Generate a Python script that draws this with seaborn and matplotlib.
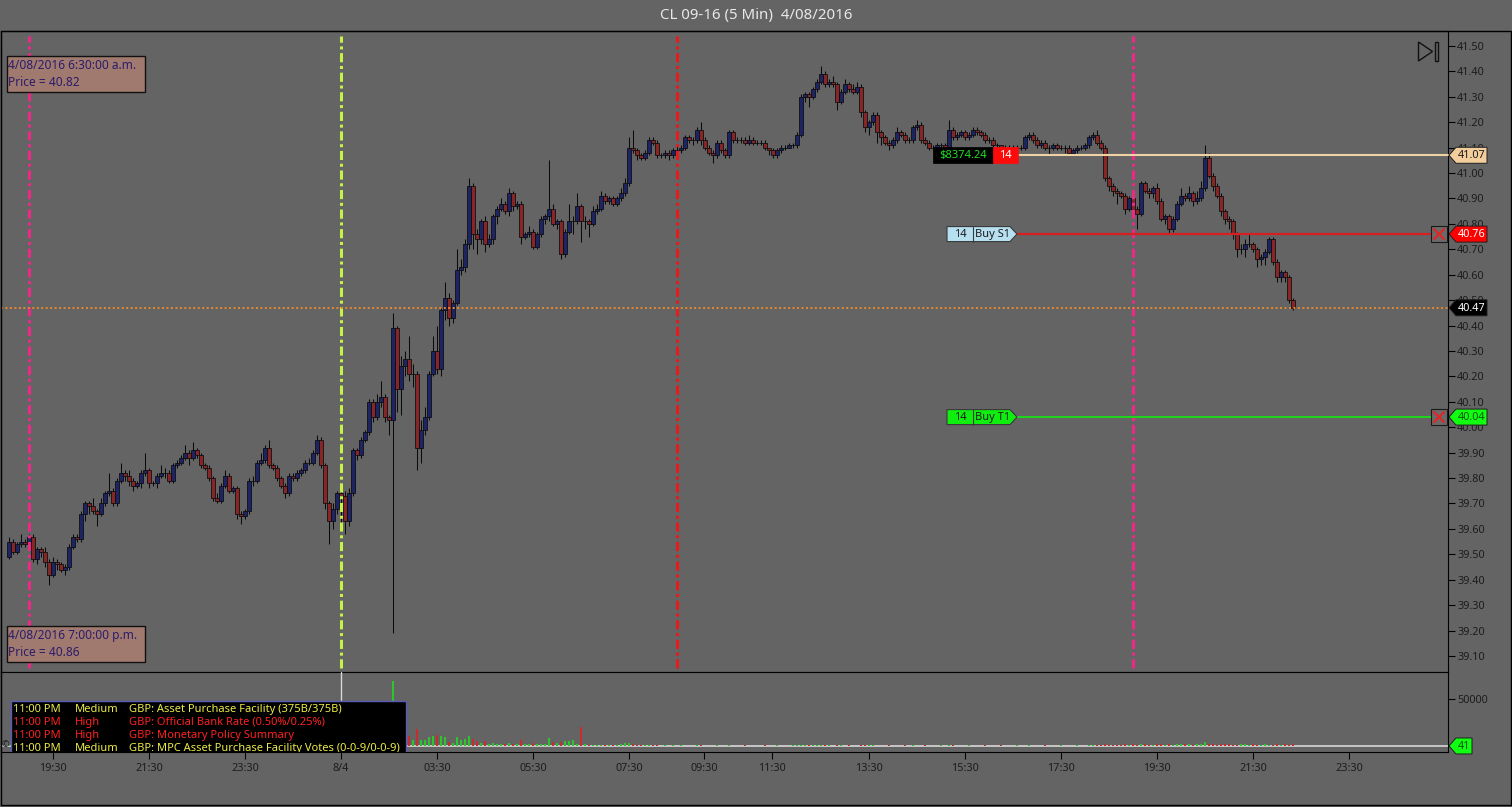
import numpy as np
import pandas as pd
import seaborn as sns
import matplotlib
matplotlib.use("Agg")
import matplotlib.pyplot as plt
from matplotlib.patches import Rectangle, Polygon
from matplotlib.ticker import MultipleLocator, FormatStrFormatter

# 5-min bars, prices in cents above 39.00
opens = [
    49, 55, 51, 54, 55, 54, 57, 48, 52, 51, 47, 42, 47, 46, 44, 45, 53, 57, 56, 66,
    70, 69, 67, 66, 70, 74, 75, 70, 79, 82, 81, 79, 77, 78, 82, 83, 78, 78, 81, 82,
    82, 79, 85, 86, 88, 90, 88, 91, 89, 85, 84, 80, 72, 71, 77, 81, 75, 76, 66, 65,
    67, 79, 79, 86, 87, 92, 85, 84, 80, 77, 74, 81, 80, 82, 83, 86, 86, 90, 95, 85,
    70, 63, 68, 74, 73, 63, 74, 91, 89, 95, 98, 110, 104, 110, 112, 104, 103, 139, 115, 124,
    127, 121, 121, 92, 99, 104, 121, 130, 123, 146, 151, 143, 149, 162, 163, 172, 195, 176, 174, 181,
    172, 174, 183, 186, 188, 185, 192, 187, 188, 175, 176, 177, 171, 176, 182, 183, 186, 180, 181, 168,
    177, 181, 181, 187, 181, 181, 180, 185, 186, 191, 189, 190, 188, 190, 192, 196, 210, 209, 207, 206,
    208, 213, 212, 207, 207, 208, 207, 209, 209, 210, 214, 213, 213, 217, 213, 210, 208, 207, 212, 209,
    207, 216, 213, 213, 213, 212, 213, 212, 212, 212, 210, 209, 207, 209, 210, 210, 211, 211, 215, 230,
    231, 230, 233, 236, 239, 235, 236, 235, 228, 232, 235, 233, 232, 234, 224, 218, 220, 223, 216, 214,
    212, 211, 213, 216, 215, 213, 213, 218, 219, 213, 212, 210, 210, 211, 211, 210, 217, 214, 215, 216,
    214, 215, 217, 216, 215, 213, 213, 211, 211, 210, 210, 210, 210, 210, 210, 214, 215, 213, 211, 212,
    210, 210, 211, 210, 210, 210, 208, 209, 210, 210, 211, 214, 215, 212, 210, 198, 195, 193, 192, 191,
    186, 190, 186, 184, 196, 193, 192, 194, 189, 182, 183, 178, 182, 188, 191, 190, 192, 189, 190, 194,
    206, 199, 195, 191, 185, 182, 181, 176, 170, 170, 172, 172, 170, 166, 167, 169, 174, 165, 159, 161,
    159, 150,
]
highs = [
    57, 56, 55, 58, 56, 58, 58, 53, 53, 53, 48, 49, 48, 47, 46, 54, 58, 58, 67, 71,
    71, 72, 68, 72, 75, 82, 76, 80, 86, 83, 83, 80, 79, 83, 90, 84, 79, 82, 85, 84,
    83, 86, 87, 89, 93, 91, 94, 92, 90, 86, 85, 81, 74, 78, 83, 82, 77, 77, 67, 68,
    80, 81, 87, 90, 93, 95, 86, 85, 81, 78, 82, 82, 83, 84, 87, 88, 91, 97, 96, 86,
    71, 70, 75, 76, 75, 76, 92, 92, 96, 99, 111, 111, 113, 118, 113, 105, 145, 140, 128, 130,
    136, 125, 122, 103, 108, 122, 136, 140, 147, 157, 153, 150, 170, 166, 174, 198, 196, 178, 182, 183,
    176, 184, 187, 190, 189, 194, 193, 189, 189, 177, 179, 178, 177, 183, 184, 205, 188, 182, 182, 178,
    188, 183, 192, 188, 183, 182, 187, 188, 193, 192, 191, 191, 191, 194, 198, 214, 217, 210, 208, 209,
    214, 214, 213, 208, 209, 209, 210, 211, 211, 215, 215, 214, 218, 220, 214, 211, 209, 213, 213, 210,
    217, 217, 214, 214, 214, 215, 214, 213, 213, 213, 210, 210, 210, 211, 211, 212, 212, 216, 231, 232,
    232, 234, 237, 242, 240, 237, 238, 236, 233, 237, 236, 235, 236, 235, 225, 221, 224, 224, 217, 215,
    213, 214, 218, 217, 216, 214, 219, 221, 220, 214, 213, 211, 212, 212, 212, 221, 218, 216, 217, 217,
    216, 218, 218, 217, 216, 214, 214, 212, 211, 211, 211, 211, 211, 211, 215, 216, 216, 214, 213, 213,
    211, 212, 212, 211, 211, 211, 210, 211, 211, 212, 215, 216, 217, 213, 211, 199, 196, 194, 193, 192,
    191, 191, 187, 197, 197, 194, 195, 196, 190, 184, 184, 183, 189, 194, 192, 195, 193, 193, 197, 211,
    208, 200, 196, 192, 186, 183, 182, 177, 172, 174, 176, 173, 171, 168, 170, 175, 175, 166, 162, 162,
    160, 151,
]
lows = [
    48, 50, 50, 53, 53, 53, 47, 46, 49, 45, 38, 41, 44, 43, 42, 44, 52, 55, 55, 63,
    66, 66, 61, 65, 69, 73, 69, 69, 78, 79, 77, 75, 76, 76, 81, 76, 77, 76, 80, 80,
    78, 78, 84, 85, 87, 85, 87, 88, 84, 83, 79, 71, 70, 70, 76, 74, 74, 64, 62, 64,
    66, 77, 78, 85, 86, 84, 83, 79, 76, 72, 73, 79, 79, 81, 82, 85, 85, 89, 84, 68,
    54, 60, 66, 62, 58, 61, 73, 87, 88, 94, 97, 102, 103, 108, 102, 97, 19, 106, 105, 120,
    118, 116, 83, 86, 97, 103, 120, 121, 120, 142, 140, 141, 148, 160, 161, 170, 170, 168, 172, 169,
    171, 172, 180, 185, 184, 183, 185, 186, 172, 174, 175, 170, 170, 175, 180, 181, 179, 178, 166, 167,
    176, 176, 180, 173, 178, 175, 179, 184, 185, 188, 188, 187, 187, 189, 191, 195, 208, 205, 205, 205,
    207, 211, 206, 206, 206, 205, 206, 208, 208, 209, 212, 211, 212, 211, 209, 207, 204, 206, 208, 206,
    206, 212, 212, 212, 211, 211, 211, 211, 211, 209, 207, 206, 206, 208, 209, 210, 210, 210, 214, 228,
    226, 229, 232, 235, 234, 234, 234, 225, 227, 231, 232, 231, 231, 222, 216, 215, 219, 212, 211, 211,
    209, 210, 212, 214, 212, 212, 212, 217, 212, 211, 209, 209, 209, 210, 209, 209, 213, 213, 214, 213,
    213, 214, 215, 214, 212, 212, 210, 210, 209, 209, 209, 209, 209, 209, 209, 213, 212, 210, 210, 209,
    207, 209, 209, 209, 208, 207, 208, 208, 209, 209, 210, 213, 211, 209, 197, 193, 191, 188, 190, 184,
    185, 185, 178, 183, 192, 190, 190, 188, 181, 180, 176, 177, 181, 187, 189, 189, 187, 188, 189, 193,
    198, 193, 190, 183, 180, 178, 174, 167, 168, 167, 171, 169, 163, 164, 164, 168, 164, 157, 157, 157,
    149, 146,
]
closes = [
    55, 51, 54, 55, 54, 57, 48, 52, 51, 47, 42, 47, 46, 44, 45, 53, 57, 56, 66, 70,
    69, 67, 66, 70, 74, 75, 70, 79, 82, 81, 79, 77, 78, 82, 83, 78, 78, 81, 82, 82,
    79, 85, 86, 88, 90, 88, 91, 89, 85, 84, 80, 72, 71, 77, 81, 75, 76, 66, 65, 67,
    79, 79, 86, 87, 92, 85, 84, 80, 77, 74, 81, 80, 82, 83, 86, 86, 90, 95, 85, 70,
    63, 68, 74, 73, 63, 74, 91, 89, 95, 98, 110, 104, 110, 112, 104, 103, 139, 115, 124, 127,
    121, 121, 92, 99, 104, 121, 130, 123, 146, 151, 143, 149, 162, 163, 172, 195, 176, 174, 181, 172,
    174, 183, 186, 188, 185, 192, 187, 188, 175, 176, 177, 171, 176, 182, 183, 186, 180, 181, 168, 177,
    181, 181, 187, 181, 181, 180, 185, 186, 191, 189, 190, 188, 190, 192, 196, 210, 209, 207, 206, 208,
    213, 212, 207, 207, 208, 207, 209, 209, 210, 214, 213, 213, 217, 213, 210, 208, 207, 212, 209, 207,
    216, 213, 213, 213, 212, 213, 212, 212, 212, 210, 209, 207, 209, 210, 210, 211, 211, 215, 230, 231,
    230, 233, 236, 239, 235, 236, 235, 228, 232, 235, 233, 232, 234, 224, 218, 220, 223, 216, 214, 212,
    211, 213, 216, 215, 213, 213, 218, 219, 213, 212, 210, 210, 211, 211, 210, 217, 214, 215, 216, 214,
    215, 217, 216, 215, 213, 213, 211, 211, 210, 210, 210, 210, 210, 210, 214, 215, 213, 211, 212, 210,
    210, 211, 210, 210, 210, 208, 209, 210, 210, 211, 214, 215, 212, 210, 198, 195, 193, 192, 191, 186,
    190, 186, 184, 196, 193, 192, 194, 189, 182, 183, 178, 182, 188, 191, 190, 192, 189, 190, 194, 206,
    199, 195, 191, 185, 182, 181, 176, 170, 170, 172, 172, 170, 166, 167, 169, 174, 165, 159, 161, 159,
    150, 147,
]
# volume per bar, thousands of contracts
volume_k = [
    1, 2, 2, 1, 2, 3, 6, 4, 3, 5, 7, 4, 2, 3, 2, 6, 5, 2, 8, 5,
    3, 3, 4, 4, 5, 3, 4, 6, 4, 2, 3, 3, 2, 4, 3, 4, 2, 3, 2, 2,
    3, 4, 2, 2, 3, 3, 3, 2, 3, 2, 3, 5, 3, 4, 4, 4, 2, 6, 3, 2,
    6, 2, 4, 2, 3, 5, 2, 3, 3, 3, 4, 2, 2, 2, 2, 1, 3, 4, 5, 8,
    7, 5, 4, 6, 8, 6, 9, 4, 6, 5, 9, 6, 7, 5, 7, 5, 69, 16, 10, 6,
    11, 6.4, 18, 6, 6, 9.5, 10.5, 11.7, 10.5, 9.5, 4.5, 3.5, 9.5, 6, 7, 10.5, 7, 5, 3.5, 5,
    2.5, 3, 2.5, 2, 2.5, 3, 2, 2.5, 6.4, 2.5, 2, 3, 2.5, 2, 2, 8.5, 4, 3, 4, 5,
    5, 6, 2, 20, 2.5, 1.5, 1, 1.5, 1, 1.5, 1, 1, 1.5, 2, 3, 3, 2.5, 1, 1.5, 1,
    1, 1, 0.8, 0.5, 0.6, 0.4, 0.8, 0.5, 0.6, 0.5, 0.4, 0.5, 0.6, 0.8, 0.5, 0.4, 0.5, 0.6, 0.5, 0.4,
    0.6, 0.5, 0.4, 0.5, 0.6, 0.5, 0.4, 0.5, 0.5, 0.6, 0.4, 0.5, 0.6, 0.5, 0.4, 0.5, 0.6, 0.8, 1.2, 1.0,
    1.4, 1.2, 1.5, 1.3, 0.8, 0.6, 0.5, 0.8, 0.6, 0.5, 0.6, 0.5, 0.4, 0.8, 1.0, 1.4, 0.6, 0.5, 0.4, 0.5,
    0.6, 0.5, 0.4, 0.5, 0.6, 0.5, 0.6, 0.4, 0.5, 0.6, 0.5, 0.4, 0.5, 0.6, 0.5, 0.8, 0.6, 0.5, 0.4, 0.5,
    0.6, 0.5, 0.4, 0.5, 0.6, 0.5, 0.4, 0.5, 1.2, 0.5, 0.4, 0.5, 0.6, 0.5, 0.4, 0.6, 0.5, 0.4, 0.5, 0.6,
    0.5, 0.4, 0.5, 0.6, 0.5, 0.4, 0.5, 0.6, 0.5, 0.4, 0.8, 0.6, 1.0, 0.8, 2.0, 1.5, 1.0, 1.5, 1.0, 2.0,
    1.0, 2.0, 1.5, 2.5, 2.0, 1.5, 1.5, 2.0, 2.5, 1.5, 2.0, 1.0, 2.0, 2.5, 2.0, 2.0, 1.5, 2.0, 2.0, 4.0,
    2.5, 2.0, 1.5, 2.0, 2.5, 2.0, 1.5, 1.5, 2.0, 2.0, 1.5, 2.0, 1.5, 1.0, 2.0, 1.5, 1.5, 2.0, 1.0, 2.0,
    1.5, 2.0,
]

tick_bars = [11, 35, 59, 83, 107, 131, 155, 173.75, 190.75, 215, 239, 263, 287, 311, 335]
tick_labels = ["19:30", "21:30", "23:30", "8/4", "03:30", "05:30", "07:30", "09:30",
               "11:30", "13:30", "15:30", "17:30", "19:30", "21:30", "23:30"]

event_bars = [5, 83, 167, 281]
event_colors = ["#ec2a86", "#c6f04a", "#e61c1c", "#ec2a86"]

last_price = 40.47
entry_price = 41.07
stop_price = 40.76
target_price = 40.04
qty = 14
open_pnl = "$8374.24"
last_volume = 41

info_top = ["4/08/2016 6:30:00 a.m.", "Price = 40.82"]
info_bottom = ["4/08/2016 7:00:00 p.m.", "Price = 40.86"]

news_time = ["11:00 PM", "11:00 PM", "11:00 PM", "11:00 PM"]
news_impact = ["Medium", "High", "High", "Medium"]
news_text = ["GBP: Asset Purchase Facility (375B/375B)",
             "GBP: Official Bank Rate (0.50%/0.25%)",
             "GBP: Monetary Policy Summary",
             "GBP: MPC Asset Purchase Facility Votes (0-0-9/0-0-9)"]
impact_colors = {"Medium": "#ecec46", "High": "#ff2020"}

df = pd.DataFrame({"open": opens, "high": highs, "low": lows, "close": closes})
df = 39 + df / 100.0
df["bar"] = np.arange(len(df))
df["volume"] = np.array(volume_k) * 1000
df["dir"] = np.where(df["close"] >= df["open"], "up", "down")

BG = "#646464"
INK = "#1c1c1c"
sns.set_theme(style="dark", rc={"axes.facecolor": BG, "figure.facecolor": BG,
                                "savefig.facecolor": BG, "axes.edgecolor": "black"})
plt.rcParams["font.family"] = ["Noto Sans", "DejaVu Sans"]

W, H = 1512, 807
fig = plt.figure(figsize=(W / 100, H / 100), dpi=100)


def frame(x0, y0, x1, y1):
    return [x0 / W, 1 - y1 / H, (x1 - x0) / W, (y1 - y0) / H]


ax = fig.add_axes(frame(1, 31, 1448, 672))
axv = fig.add_axes(frame(1, 672, 1448, 752))
ov = fig.add_axes([0, 0, 1, 1], zorder=10)
ov.set_xlim(0, W)
ov.set_ylim(H, 0)
ov.axis("off")
ov.set_autoscale_on(False)

# candles
up = df["dir"] == "up"
ax.vlines(df["bar"], df["low"], df["high"], color="#0b0b0b", lw=0.75, zorder=3)
ax.bar(df["bar"], (df["close"] - df["open"]).abs(), bottom=df[["open", "close"]].min(axis=1),
       width=0.85, color=np.where(up, "#1d2464", "#862626"), edgecolor="#0b0b0b",
       linewidth=0.55, zorder=4)

for b, c in zip(event_bars, event_colors):
    ax.axvline(b, ymin=0.006, ymax=0.992, color=c, lw=2.2, ls=(0, (3, 1.2, 1, 1.2)), zorder=5)
ax.axhline(last_price, color="#e8892c", lw=1.4, ls=(0, (1, 1.3)), zorder=5)

# volume
axv.axhline(last_volume, color="#cfcfcf", lw=1.3, zorder=1)
sns.barplot(data=df, x="bar", y="volume", hue="dir",
            palette={"up": "#12e012", "down": "#e01414"}, native_scale=True,
            width=0.55, dodge=False, legend=False, errorbar=None, linewidth=0,
            ax=axv, zorder=2)
axv.axvline(83, ymin=(752 - 700) / 80, ymax=1, color="#d8d8d8", lw=1, zorder=3)

# axes
for a in (ax, axv):
    a.set_xlim(-2, 359.75)
    a.set_xlabel("")
    a.set_ylabel("")
    for s in a.spines.values():
        s.set_color("black")
        s.set_linewidth(0.8)
ax.set_ylim(39.037, 41.559)
axv.set_ylim(-6383, 78723)

ax.yaxis.tick_right()
ax.yaxis.set_major_locator(MultipleLocator(0.1))
ax.yaxis.set_major_formatter(FormatStrFormatter("%.2f"))
ax.tick_params(axis="y", right=True, left=False, length=5, width=0.8, color="black",
               labelcolor=INK, labelsize=7.8, pad=1.5)
ax.tick_params(axis="x", bottom=False, labelbottom=False)

axv.yaxis.tick_right()
axv.set_yticks([50000])
axv.set_yticklabels(["50000"])
axv.tick_params(axis="y", right=True, left=False, length=5, width=0.8, color="black",
                labelcolor=INK, labelsize=7.8, pad=1.5)
axv.set_xticks(tick_bars)
axv.set_xticklabels(tick_labels)
axv.tick_params(axis="x", bottom=True, length=5, width=0.8, color="black",
                labelcolor=INK, labelsize=7.8, pad=3)


def price_px(p, a=ax):
    disp = a.transData.transform((0, p))
    return ov.transData.inverted().transform(disp)[1]


# title and outer frame
ov.text(756, 16, "CL 09-16 (5 Min)  4/08/2016", ha="center", va="center",
        color="#e8e8e8", fontsize=10.8)
ov.add_patch(Rectangle((0.5, 31), 1510.5, 774, fill=False, ec="black", lw=1))

# order lines
y_e, y_s, y_t, y_l = (price_px(p) for p in (entry_price, stop_price, target_price, last_price))
ov.plot([1018, 1448], [y_e, y_e], color="#efd2a4", lw=1.5, zorder=6)
ov.plot([1017, 1431], [y_s, y_s], color="#d42020", lw=1.6, zorder=6)
ov.plot([1017, 1431], [y_t, y_t], color="#18e018", lw=1.3, zorder=6)

# P&L tag
ov.add_patch(Rectangle((933, y_e - 8), 60, 16, fc="black", ec="black", lw=0.5, zorder=7))
ov.text(963, y_e, open_pnl, color="#22dd22", fontsize=8, ha="center", va="center",
        parse_math=False, zorder=8)
ov.add_patch(Rectangle((993, y_e - 8), 25, 16, fc="#ff0a0a", ec="#ff0a0a", lw=0.5, zorder=7))
ov.text(1005.5, y_e, str(qty), color="white", fontsize=8, ha="center", va="center", zorder=8)


def order_tag(y, label, face):
    pts = [(947, y - 7.5), (1010, y - 7.5), (1017, y), (1010, y + 7.5), (947, y + 7.5)]
    ov.add_patch(Polygon(pts, closed=True, fc=face, ec="#3a3a3a", lw=0.8, zorder=7))
    ov.plot([973, 973], [y - 7.5, y + 7.5], color="#3a3a3a", lw=0.8, zorder=8)
    ov.text(960, y, str(qty), color=INK, fontsize=8, ha="center", va="center", zorder=8)
    ov.text(975, y, label, color=INK, fontsize=8, ha="left", va="center", zorder=8)


order_tag(y_s, "Buy S1", "#b6dff0")
order_tag(y_t, "Buy T1", "#10ee10")


def cancel_box(y):
    ov.add_patch(Rectangle((1431, y - 8), 16, 16, fc="#6a6a6a", ec="#1a1a1a", lw=0.8, zorder=7))
    ov.plot([1434, 1444], [y - 5, y + 5], color="#e02626", lw=1.6, zorder=8)
    ov.plot([1434, 1444], [y + 5, y - 5], color="#e02626", lw=1.6, zorder=8)


cancel_box(y_s)
cancel_box(y_t)


def axis_flag(y, text, face, color, right=1487):
    pts = [(1449, y), (1456, y - 8), (right, y - 8), (right, y + 8), (1456, y + 8)]
    ov.add_patch(Polygon(pts, closed=True, fc=face, ec="#202020", lw=0.7, zorder=9))
    ov.text((1456 + right) / 2, y + 0.5, text, color=color, fontsize=7.8,
            ha="center", va="center", zorder=10)


axis_flag(y_e, f"{entry_price:.2f}", "#f3cd9b", INK)
axis_flag(y_s, f"{stop_price:.2f}", "#ff0000", "white")
axis_flag(y_l, f"{last_price:.2f}", "#000000", "white")
axis_flag(y_t, f"{target_price:.2f}", "#10ff10", "#145214")
axis_flag(price_px(last_volume, axv), str(last_volume), "#10ff10", "#145214", right=1472)

# info boxes
for y0, lines in ((56, info_top), (626, info_bottom)):
    ov.add_patch(Rectangle((6.5, y0), 138, 36, fc="#a07a6e", ec="#111111", lw=1, zorder=7))
    ov.text(8.5, y0 + 9.7, lines[0], color="#2c1c6c", fontsize=8.6, va="center", zorder=8)
    ov.text(8.5, y0 + 26.5, lines[1], color="#2c1c6c", fontsize=8.6, va="center", zorder=8)

# end-of-chart icon
ov.add_patch(Polygon([(1418.5, 42), (1418.5, 61), (1432.5, 51.5)], closed=True,
                     fill=False, ec="#111111", lw=1, zorder=7))
ov.add_patch(Rectangle((1434.5, 42), 3.5, 19, fill=False, ec="#111111", lw=1, zorder=7))

# news box in the volume panel
box = Rectangle((11, 700.5), 395, 60, fc="black", ec="#5a5ab8", lw=1, zorder=7)
ov.add_patch(box)
box.set_clip_box(axv.bbox)
for k, (t, imp, txt) in enumerate(zip(news_time, news_impact, news_text)):
    y = 709.5 + k * 13
    col = impact_colors[imp]
    for x, s in ((13, t), (75, imp), (129, txt)):
        tt = ov.text(x, y, s, color=col, fontsize=8, ha="left", va="center", zorder=8)
        tt.set_clip_box(axv.bbox)
        tt.set_clip_on(True)
ov.text(5.5, 745, "©", color=INK, fontsize=6.5, ha="center", va="center", zorder=8)

fig.savefig("out.png", dpi=100, facecolor=BG)
